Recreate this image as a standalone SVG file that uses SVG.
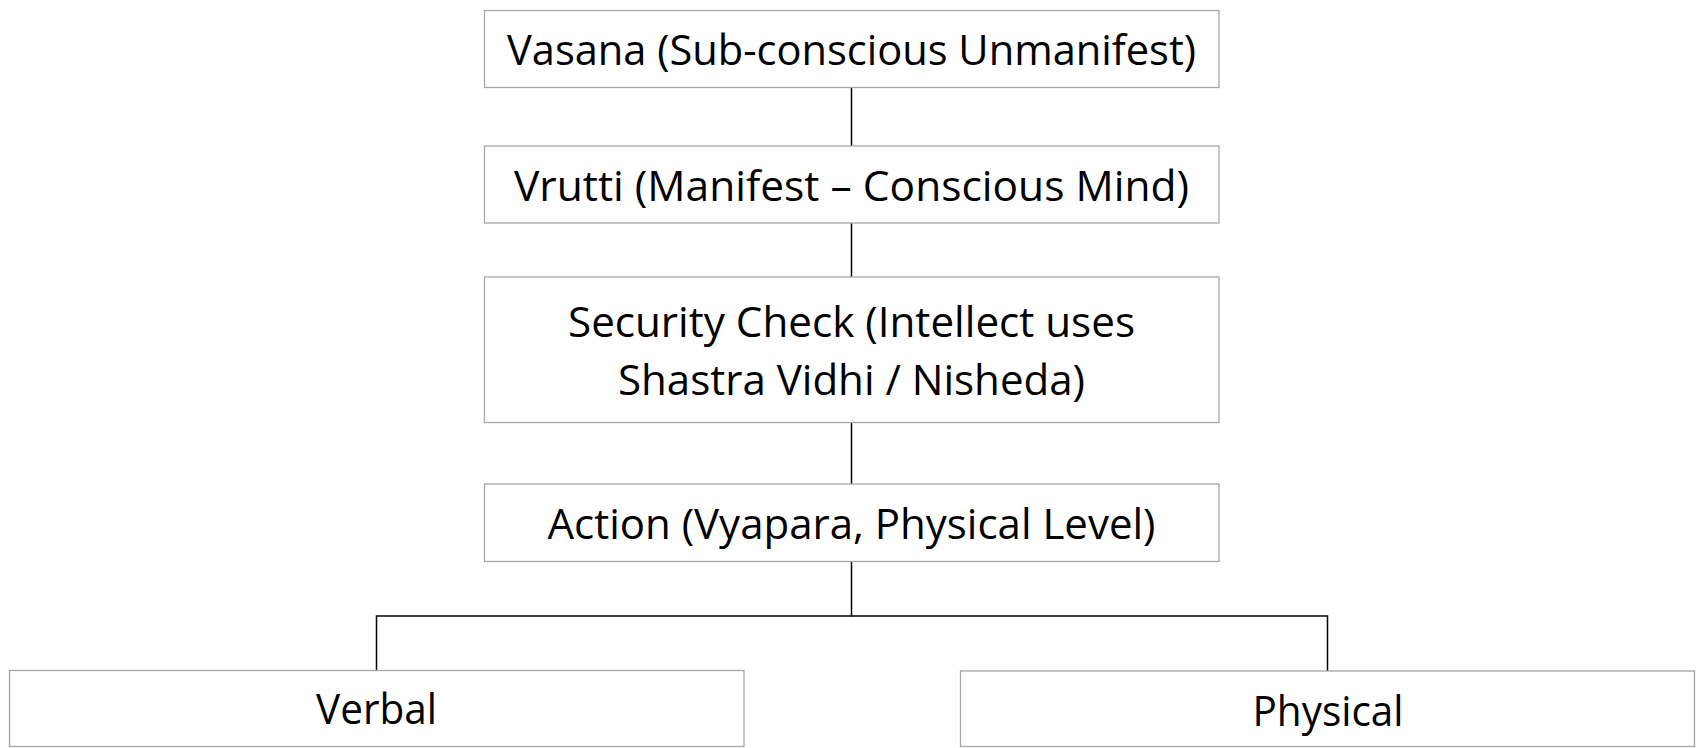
<svg xmlns="http://www.w3.org/2000/svg" width="1702" height="748" viewBox="0 0 1702 748">
  <style>
    .box { fill: #ffffff; stroke: #a6a6a6; stroke-width: 1.3; }
    .lbl { font-family: "Open Sans", "Noto Sans", "Liberation Sans", sans-serif; font-size: 42px; fill: #000000; text-anchor: middle; }
    .wire { fill: none; stroke: #000000; stroke-width: 1.5; }
  </style>
  <rect width="1702" height="748" fill="#ffffff"/>

  <!-- tree connectors -->
  <g id="connectors">
    <line class="wire" x1="851.5" y1="87" x2="851.5" y2="146"/>
    <line class="wire" x1="851.5" y1="223" x2="851.5" y2="277"/>
    <line class="wire" x1="851.5" y1="422" x2="851.5" y2="484"/>
    <polyline class="wire" points="851.5,561 851.5,616 376.5,616 376.5,670"/>
    <polyline class="wire" points="851.5,616 1327.5,616 1327.5,671"/>
  </g>

  <g id="vasana">
    <rect class="box" x="484.5" y="10.5" width="734.5" height="77"/>
    <text class="lbl" x="851.5" y="65" textLength="689" lengthAdjust="spacingAndGlyphs">Vasana (Sub-conscious Unmanifest)</text>
  </g>

  <g id="vrutti">
    <rect class="box" x="484.5" y="146" width="734.5" height="77"/>
    <text class="lbl" x="851.5" y="201" textLength="675" lengthAdjust="spacingAndGlyphs">Vrutti (Manifest – Conscious Mind)</text>
  </g>

  <g id="security-check">
    <rect class="box" x="484.5" y="277" width="734.5" height="145.5"/>
    <text class="lbl" x="851.5" y="337" textLength="567" lengthAdjust="spacingAndGlyphs">Security Check (Intellect uses</text>
    <text class="lbl" x="851.5" y="395" textLength="467" lengthAdjust="spacingAndGlyphs">Shastra Vidhi / Nisheda)</text>
  </g>

  <g id="action">
    <rect class="box" x="484.5" y="484" width="734.5" height="77.5"/>
    <text class="lbl" x="851.5" y="539" textLength="608" lengthAdjust="spacingAndGlyphs">Action (Vyapara, Physical Level)</text>
  </g>

  <g id="verbal">
    <rect class="box" x="9.5" y="670.5" width="734.5" height="76"/>
    <text class="lbl" x="376.5" y="723.5" textLength="121" lengthAdjust="spacingAndGlyphs">Verbal</text>
  </g>

  <g id="physical">
    <rect class="box" x="960.5" y="671" width="734" height="75.5"/>
    <text class="lbl" x="1328" y="725.5" textLength="151" lengthAdjust="spacingAndGlyphs">Physical</text>
  </g>
</svg>
